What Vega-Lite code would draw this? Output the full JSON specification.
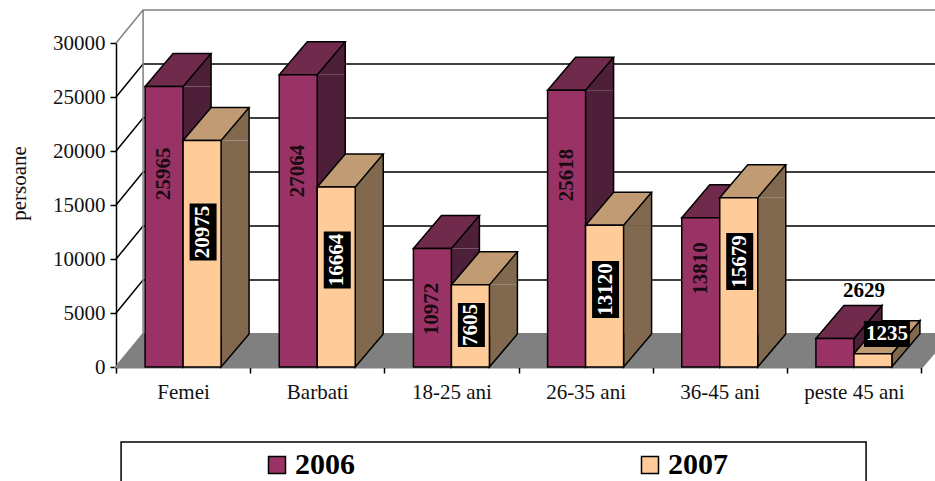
{"$schema":"https://vega.github.io/schema/vega-lite/v6.json","width":805,"height":324,"autosize":{"type":"none"},"padding":{"left":116,"top":43,"right":14,"bottom":114},"background":"white","config":{"view":{"stroke":null},"font":"Liberation Serif","axisY":{"titleFont":"Liberation Serif","titleFontSize":21,"titleFontWeight":"normal","titleColor":"#111111","titlePadding":23,"titleY":140}},
"datasets":{"bars":[
{"category":"Femei","year":"2006","value":25965,"labelAt":17900},
{"category":"Femei","year":"2007","value":20975,"labelAt":12500},
{"category":"Barbati","year":"2006","value":27064,"labelAt":18150},
{"category":"Barbati","year":"2007","value":16664,"labelAt":9900},
{"category":"18-25 ani","year":"2006","value":10972,"labelAt":5370},
{"category":"18-25 ani","year":"2007","value":7605,"labelAt":3890},
{"category":"26-35 ani","year":"2006","value":25618,"labelAt":17780},
{"category":"26-35 ani","year":"2007","value":13120,"labelAt":7176},
{"category":"36-45 ani","year":"2006","value":13810,"labelAt":9120},
{"category":"36-45 ani","year":"2007","value":15679,"labelAt":9770},
{"category":"peste 45 ani","year":"2006","value":2629,"labelAt":7037},
{"category":"peste 45 ani","year":"2007","value":1235,"labelAt":3055}],
"ticks":[{"tick":0},{"tick":5000},{"tick":10000},{"tick":15000},{"tick":20000},{"tick":25000},{"tick":30000}]},
"data":{"name":"bars"},
"encoding":{"x":{"field":"category","type":"nominal","sort":null,"title":null,"scale":{"type":"band","domain":["Femei","Barbati","18-25 ani","26-35 ani","36-45 ani","peste 45 ani"],"paddingInner":0,"paddingOuter":0},"axis":{"labelAngle":0,"tickBand":"extent","domainColor":"black","domainWidth":1.5,"tickColor":"black","tickWidth":1.5,"tickSize":6,"labelFontSize":21,"labelColor":"#111111","labelPadding":8,"grid":false,"labelFont":"Liberation Serif"}},
"y":{"field":"value","type":"quantitative","title":"persoane","scale":{"domain":[0,30000],"nice":false},"axis":{"values":[0,5000,10000,15000,20000,25000,30000],"domainColor":"black","domainWidth":1.5,"tickColor":"black","tickWidth":1.5,"tickSize":6,"labelFontSize":21,"labelColor":"#111111","labelPadding":5,"grid":false,"format":"d","labelFont":"Liberation Serif"}}},
"layer":[
{"data":{"name":"ticks"},"mark":{"type":"point","shape":"M0,0L27,-33L819,-33L819,-15L806,0Z","size":4,"filled":true,"fill":"#808080","stroke":"#808080","opacity":1,"xOffset":-67},"encoding":{"x":{"datum":"Femei"},"y":{"field":"tick","type":"quantitative"}},"transform":[{"filter":"datum.tick==0"}]},
{"data":{"name":"ticks"},"transform":[{"filter":"datum.tick>0 && datum.tick<30000"}],"mark":{"type":"point","shape":"M0,0L27,-33L819,-33","size":4,"filled":false,"stroke":"black","strokeWidth":1.5,"opacity":1,"xOffset":-67},"encoding":{"x":{"datum":"Femei"},"y":{"field":"tick","type":"quantitative"}}},
{"data":{"name":"ticks"},"transform":[{"filter":"datum.tick==30000"}],"mark":{"type":"point","shape":"M0,0L27,-33L819,-33M27,-33L27,291","size":4,"filled":false,"stroke":"#808080","strokeWidth":1.5,"opacity":1,"xOffset":-67},"encoding":{"x":{"datum":"Femei"},"y":{"field":"tick","type":"quantitative"}}},

{"transform":[{"filter":"datum.year=='2006' && datum.value>3100"}],"mark":{"type":"rule","stroke":"#4D1F38","strokeWidth":28,"xOffset":14,"x2Offset":14,"y2Offset":-33},"encoding":{"y2":{"datum":0}}},
{"transform":[{"filter":"datum.year=='2006' && datum.value>3100"}],"mark":{"type":"point","shape":"M19,0L47,-33L47,0Z","size":4,"filled":true,"fill":"#4D1F38","opacity":1,"xOffset":-19}},
{"transform":[{"filter":"datum.year=='2006' && datum.value>3100"}],"mark":{"type":"point","shape":"M19,-33L19,0L47,-33","size":4,"filled":true,"fill":"#4D1F38","stroke":"black","strokeWidth":1.5,"opacity":1,"xOffset":-19},"encoding":{"y":{"datum":0}}},
{"transform":[{"filter":"datum.year=='2006' && datum.value>3100"}],"mark":{"type":"rule","stroke":"black","strokeWidth":1.5,"xOffset":28,"yOffset":-33,"y2Offset":-33},"encoding":{"y2":{"datum":0}}},
{"transform":[{"filter":"datum.year=='2006' && datum.value<3100"}],"mark":{"type":"point","shape":"M19,0L47,-33L47,-5L19,28Z","size":4,"filled":true,"fill":"#4D1F38","stroke":"black","strokeWidth":1.5,"opacity":1,"xOffset":-19}},
{"transform":[{"filter":"datum.year=='2006'"}],"mark":{"type":"point","shape":"M-19,0L19,0L47,-33L9,-33Z","size":4,"filled":true,"fill":"#6F2A4C","stroke":"black","strokeWidth":1.5,"opacity":1,"xOffset":-19}},
{"transform":[{"filter":"datum.year=='2006'"}],"mark":{"type":"bar","width":38,"xOffset":-19,"stroke":"black","strokeWidth":1.5},"encoding":{"color":{"field":"year","type":"nominal","scale":{"domain":["2006","2007"],"range":["#993366","#FFCC99"]},"legend":{"title":null,"orient":"none","legendX":146,"legendY":407,"direction":"horizontal","symbolType":"square","symbolSize":289,"symbolStrokeColor":"black","symbolStrokeWidth":1.5,"labelFontSize":30,"labelFontWeight":"bold","labelFont":"Liberation Serif","labelColor":"black","columnPadding":280,"labelOffset":3,"padding":0}}}},

{"transform":[{"filter":"datum.year=='2007' && datum.value>3100"}],"mark":{"type":"rule","stroke":"#80694E","strokeWidth":28,"xOffset":52,"x2Offset":52,"y2Offset":-33},"encoding":{"y2":{"datum":0}}},
{"transform":[{"filter":"datum.year=='2007' && datum.value>3100"}],"mark":{"type":"point","shape":"M19,0L47,-33L47,0Z","size":4,"filled":true,"fill":"#80694E","opacity":1,"xOffset":19}},
{"transform":[{"filter":"datum.year=='2007' && datum.value>3100"}],"mark":{"type":"point","shape":"M19,-33L19,0L47,-33","size":4,"filled":true,"fill":"#80694E","stroke":"black","strokeWidth":1.5,"opacity":1,"xOffset":19},"encoding":{"y":{"datum":0}}},
{"transform":[{"filter":"datum.year=='2007' && datum.value>3100"}],"mark":{"type":"rule","stroke":"black","strokeWidth":1.5,"xOffset":66,"yOffset":-33,"y2Offset":-33},"encoding":{"y2":{"datum":0}}},
{"transform":[{"filter":"datum.year=='2007' && datum.value<3100"}],"mark":{"type":"point","shape":"M19,0L47,-33L47,-20L19,13Z","size":4,"filled":true,"fill":"#80694E","stroke":"black","strokeWidth":1.5,"opacity":1,"xOffset":19}},
{"transform":[{"filter":"datum.year=='2007'"}],"mark":{"type":"point","shape":"M-19,0L19,0L47,-33L9,-33Z","size":4,"filled":true,"fill":"#C09B74","stroke":"black","strokeWidth":1.5,"opacity":1,"xOffset":19}},
{"transform":[{"filter":"datum.year=='2007'"}],"mark":{"type":"bar","width":38,"xOffset":19,"stroke":"black","strokeWidth":1.5},"encoding":{"color":{"field":"year","type":"nominal"}}},

{"transform":[{"filter":"datum.year=='2006' && datum.value>3100"}],"mark":{"type":"text","angle":270,"fontSize":21,"fontWeight":"bold","font":"Liberation Serif","color":"#1a0a12","align":"center","baseline":"middle","xOffset":-19},"encoding":{"y":{"field":"labelAt","type":"quantitative"},"text":{"field":"value","type":"quantitative","format":"d"}}},
{"transform":[{"filter":"datum.year=='2007' && datum.value>10000"}],"mark":{"type":"point","shape":"M-13.5,-28.5L13.5,-28.5L13.5,28.5L-13.5,28.5Z","size":4,"filled":true,"fill":"black","opacity":1,"xOffset":20},"encoding":{"y":{"field":"labelAt","type":"quantitative"}}},
{"transform":[{"filter":"datum.year=='2007' && datum.value<10000 && datum.value>3100"}],"mark":{"type":"point","shape":"M-13.5,-22L13.5,-22L13.5,22L-13.5,22Z","size":4,"filled":true,"fill":"black","opacity":1,"xOffset":20},"encoding":{"y":{"field":"labelAt","type":"quantitative"}}},
{"transform":[{"filter":"datum.year=='2007' && datum.value>3100"}],"mark":{"type":"text","angle":270,"fontSize":21,"fontWeight":"bold","font":"Liberation Serif","color":"white","align":"center","baseline":"middle","xOffset":20},"encoding":{"y":{"field":"labelAt","type":"quantitative"},"text":{"field":"value","type":"quantitative","format":"d"}}},
{"transform":[{"filter":"datum.year=='2006' && datum.value<3100"}],"mark":{"type":"text","fontSize":21,"fontWeight":"bold","font":"Liberation Serif","color":"black","align":"center","baseline":"middle","xOffset":10},"encoding":{"y":{"field":"labelAt","type":"quantitative"},"text":{"field":"value","type":"quantitative","format":"d"}}},
{"transform":[{"filter":"datum.year=='2007' && datum.value<3100"}],"mark":{"type":"point","shape":"M-23,-13L23,-13L23,13L-23,13Z","size":4,"filled":true,"fill":"black","opacity":1,"xOffset":33},"encoding":{"y":{"field":"labelAt","type":"quantitative"}}},
{"transform":[{"filter":"datum.year=='2007' && datum.value<3100"}],"mark":{"type":"text","fontSize":21,"fontWeight":"bold","font":"Liberation Serif","color":"white","align":"center","baseline":"middle","xOffset":33},"encoding":{"y":{"field":"labelAt","type":"quantitative"},"text":{"field":"value","type":"quantitative","format":"d"}}},
{"data":{"name":"ticks"},"transform":[{"filter":"datum.tick==0"}],"mark":{"type":"point","shape":"M-62,75L683,75L683,130L-62,130Z","size":4,"filled":false,"stroke":"black","strokeWidth":1.5,"opacity":1},"encoding":{"x":{"datum":"Femei"},"y":{"field":"tick","type":"quantitative"}}}
]}
